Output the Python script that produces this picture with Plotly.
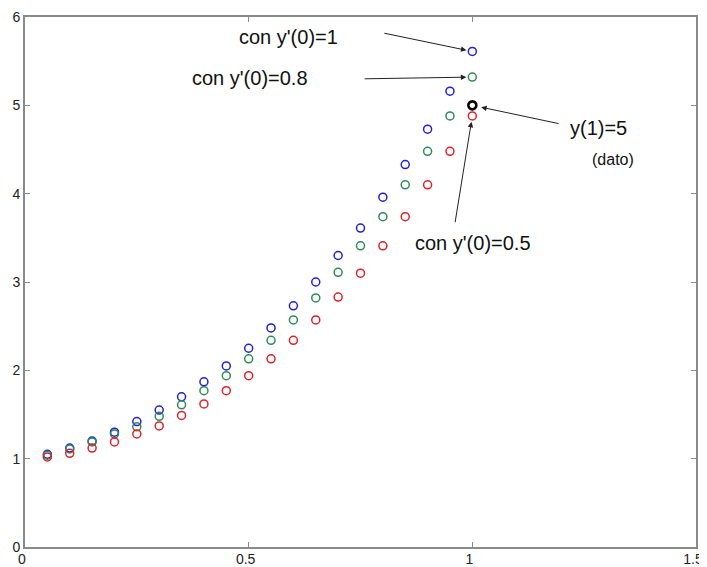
import plotly.graph_objects as go

x_vals = [0.05, 0.10, 0.15, 0.20, 0.25, 0.30, 0.35, 0.40, 0.45, 0.50,
          0.55, 0.60, 0.65, 0.70, 0.75, 0.80, 0.85, 0.90, 0.95, 1.00]

y_blue = [1.05, 1.12, 1.20, 1.30, 1.42, 1.55, 1.70, 1.87, 2.05, 2.25,
          2.48, 2.73, 3.00, 3.30, 3.61, 3.96, 4.33, 4.73, 5.16, 5.61]   # y'(0)=1
y_green = [1.04, 1.11, 1.19, 1.28, 1.36, 1.48, 1.61, 1.77, 1.94, 2.13,
           2.34, 2.57, 2.82, 3.11, 3.41, 3.74, 4.10, 4.48, 4.88, 5.32]  # y'(0)=0.8
y_red = [1.02, 1.06, 1.12, 1.19, 1.28, 1.37, 1.49, 1.62, 1.77, 1.94,
         2.13, 2.34, 2.57, 2.83, 3.10, 3.41, 3.74, 4.10, 4.48, 4.88]    # y'(0)=0.5
x_dato = [1.0]
y_dato = [5.0]

x_ticks = [0, 0.5, 1, 1.5]
x_ticklabels = ["0", "0.5", "1", "1.5"]
y_ticks = [0, 1, 2, 3, 4, 5, 6]
y_ticklabels = ["0", "1", "2", "3", "4", "5", "6"]

FONT = "Liberation Sans, Arial, sans-serif"

fig = go.Figure()

def add_series(xs, ys, color, lw=1.5, size=8):
    fig.add_trace(go.Scatter(
        x=xs, y=ys, mode="markers",
        marker=dict(symbol="circle-open", size=size, color=color,
                    line=dict(width=lw, color=color)),
        showlegend=False, hoverinfo="x+y"))

add_series(x_vals, y_blue, "#1f1fdc")
add_series(x_vals, y_green, "#2e8b57")
add_series(x_vals, y_red, "#e0202a")
add_series(x_dato, y_dato, "#000000", lw=2.6, size=8)

annotations = []
# Text labels
texts = [
    ("con y'(0)=1", 0.588, 5.77, 20),
    ("con y'(0)=0.8", 0.503, 5.31, 20),
    ("y(1)=5", 1.281, 4.74, 20),
    ("(dato)", 1.315, 4.39, 16),
    ("con y'(0)=0.5", 1.002, 3.44, 20),
]
for t, tx, ty, fs in texts:
    annotations.append(dict(x=tx, y=ty, xref="x", yref="y", text=t,
                            showarrow=False, font=dict(family=FONT, size=fs, color="#111"),
                            xanchor="center", yanchor="middle"))

# Arrows: (head_x, head_y, tail_x, tail_y, standoff)
arrows = [
    (x_vals[-1], y_blue[-1], 0.800, 5.82, 6),
    (x_vals[-1], y_green[-1], 0.756, 5.30, 6),
    (x_dato[0], y_dato[0], 1.196, 4.79, 9),
    (x_vals[-1], y_red[-1], 0.961, 3.66, 6),
]
for hx, hy, tx, ty, so in arrows:
    annotations.append(dict(x=hx, y=hy, ax=tx, ay=ty, xref="x", yref="y",
                            axref="x", ayref="y", text="", showarrow=True,
                            arrowhead=2, arrowsize=1.1, arrowwidth=1,
                            arrowcolor="#222", standoff=so))

axis_common = dict(showline=True, mirror="ticks", linecolor="#8a8a8a", linewidth=2,
                   ticks="inside", ticklen=5, tickcolor="#8a8a8a", tickwidth=1,
                   showgrid=False, zeroline=False, automargin=False,
                   tickfont=dict(family=FONT, size=14, color="#222"))

# The page body adds an 8px offset, so the figure is sized to fit the window.
fig.update_layout(
    width=699, height=559,
    margin=dict(l=17, r=11, t=9, b=20),
    paper_bgcolor="white", plot_bgcolor="white",
    xaxis=dict(range=[0, 1.5], tickvals=x_ticks, ticktext=x_ticklabels,
               ticklabelstandoff=-2, ticklabelshift=-3, **axis_common),
    yaxis=dict(range=[0, 6], tickvals=y_ticks, ticktext=y_ticklabels, **axis_common),
    annotations=annotations,
)

fig.write_html("out.html")
